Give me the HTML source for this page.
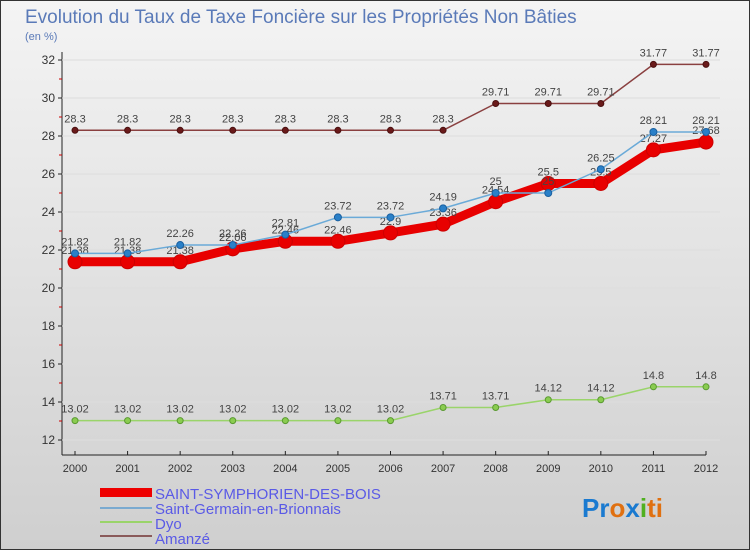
<!DOCTYPE html>
<html><head><meta charset="utf-8"><style>
body{margin:0;width:750px;height:550px;overflow:hidden;font-family:"Liberation Sans",sans-serif}
svg{display:block}
</style></head><body>
<svg width="750" height="550" xmlns="http://www.w3.org/2000/svg">
<defs><linearGradient id="bg" x1="0" y1="0" x2="0" y2="1"><stop offset="0" stop-color="#f4f4f4"/><stop offset="1" stop-color="#cfcfcf"/></linearGradient></defs>
<rect x="0.5" y="0.5" width="749" height="549" fill="url(#bg)" stroke="#333"/>
<text x="25" y="23" font-size="19" fill="#5a7ab8">Evolution du Taux de Taxe Foncière sur les Propriétés Non Bâties</text>
<text x="25" y="40" font-size="11" fill="#5a7ab8">(en %)</text>
<g id="axes"></g>
<g id="series"></g>
<g id="legend" font-size="15" fill="#5a5ae6">
<rect x="100" y="488" width="52" height="9" fill="#e00"/>
<text x="155" y="499">SAINT-SYMPHORIEN-DES-BOIS</text>
<rect x="100" y="507" width="52" height="2" fill="#7aaad0"/>
<text x="155" y="514">Saint-Germain-en-Brionnais</text>
<rect x="100" y="521" width="52" height="2" fill="#9ad46a"/>
<text x="155" y="529">Dyo</text>
<rect x="100" y="535" width="52" height="2" fill="#8a5a5a"/>
<text x="155" y="544">Amanzé</text>
</g>
<text x="582" y="517" font-size="26" font-weight="bold"><tspan fill="#1a7ad0">Pr</tspan><tspan fill="#e07010">o</tspan><tspan fill="#1a7ad0">x</tspan><tspan fill="#50b020">i</tspan><tspan fill="#e07010">ti</tspan></text>
</svg>
<script>
const years=[2000,2001,2002,2003,2004,2005,2006,2007,2008,2009,2010,2011,2012];
const yTicks=[12,14,16,18,20,22,24,26,28,30,32];
const symphorien=[21.38,21.38,21.38,22.06,22.46,22.46,22.9,23.36,24.54,25.5,25.5,27.27,27.68];
const germain=[21.82,21.82,22.26,22.26,22.81,23.72,23.72,24.19,25,25,26.25,28.21,28.21];
const dyo=[13.02,13.02,13.02,13.02,13.02,13.02,13.02,13.71,13.71,14.12,14.12,14.8,14.8];
const amanze=[28.3,28.3,28.3,28.3,28.3,28.3,28.3,28.3,29.71,29.71,29.71,31.77,31.77];
const NS="http://www.w3.org/2000/svg";
function x(i){return 75+i*(706-75)/(years.length-1);}
function y(v){return 440-(v-12)*19;}
function mk(t,a,p){const e=document.createElementNS(NS,t);for(const k in a)e.setAttribute(k,a[k]);p.appendChild(e);return e;}
const ax=document.getElementById('axes');
let l=mk('line',{x1:62,y1:52,x2:62,y2:455,stroke:'#222'},ax);


l=mk('line',{x1:62,y1:455,x2:706,y2:455,stroke:'#222'},ax);


yTicks.forEach((v,k)=>{
  const g=mk('line',{x1:62,y1:y(v),x2:720,y2:y(v),stroke:'#ddd'},ax);
  
  
  mk('line',{x1:58,y1:y(v),x2:62,y2:y(v),stroke:'#222'},ax);
  if(k<yTicks.length-1) mk('line',{x1:59,y1:y(v+1),x2:62,y2:y(v+1),stroke:'#c00'},ax);
  const t=mk('text',{x:55,y:y(v)+4,'font-size':12,'text-anchor':'end',fill:'#333'},ax);
  t.textContent=v;
  
  
});
years.forEach((yr,i)=>{
  mk('line',{x1:x(i),y1:451,x2:x(i),y2:455,stroke:'#222'},ax);
  const t=mk('text',{x:x(i),y:472,'font-size':11,'text-anchor':'middle',fill:'#333'},ax);
  t.textContent=yr;
  
  
});
const sg=document.getElementById('series');
function series(data,name,color,w,r,dot,stroke){
  const g=mk('g',{},sg);
  
  
  const p=mk('polyline',{points:data.map((v,i)=>x(i)+','+y(v)).join(' '),fill:'none',stroke:color,'stroke-width':w,'stroke-linejoin':'round'},g);
  
  
  data.forEach((v,i)=>{
    const c=mk('circle',{cx:x(i),cy:y(v),r:r,fill:dot,stroke:stroke,'stroke-width':1},g);
    
    
    const t=mk('text',{x:x(i),y:y(v)-8,'font-size':11,'text-anchor':'middle',fill:'#444'},g);
    t.textContent=v;
    
    
  });
}
series(amanze,'amanze','#8a4040',1.5,3,'#6a1a1a','#4a1010');
series(dyo,'dyo','#9ad46a',1.5,3,'#8acc50','#5a9a30');
series(symphorien,'saint-symphorien','#e80000',9,7,'#e80000','#c00');
series(germain,'saint-germain','#6aaad8',1.5,3.5,'#2a80c8','#1a60a0');
</script>
</body></html>
